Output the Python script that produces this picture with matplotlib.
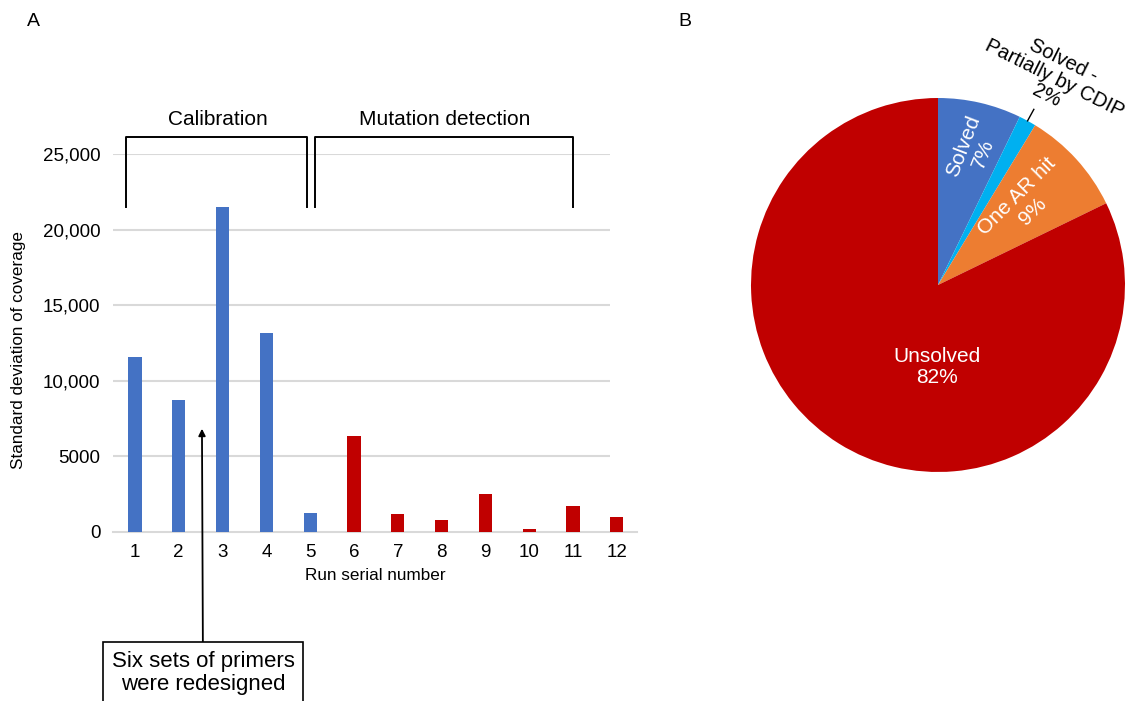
import numpy as np
import matplotlib
matplotlib.use("Agg")
import matplotlib.pyplot as plt

plt.rcParams['font.family'] = ['Liberation Sans', 'DejaVu Sans']

# Panel A data
runs = list(range(1, 13))
std_cov = [11600, 8740, 21500, 13150, 1260, 6340, 1210, 770, 2530, 180, 1720, 990]
phase = ['cal'] * 5 + ['mut'] * 7
yticks = [0, 5000, 10000, 15000, 20000, 25000]
ytick_labels = ['0', '5000', '10,000', '15,000', '20,000', '25,000']

# Panel B data
pie_names = ['Solved', 'Solved -\nPartially by CDIP', 'One AR hit', 'Unsolved']
pie_pct = [7.2, 1.5, 9.1, 82.2]
pie_text = ['7%', '2%', '9%', '82%']

BLUE = '#4472C4'
RED = '#C00000'
GRID = '#D9D9D9'

fig = plt.figure(figsize=(11.36, 7.01), dpi=100)

# ---- panel A: bar chart ----
ax = fig.add_axes([0.0995, 0.2411, 0.4612, 0.5392])
colors = [BLUE if p == 'cal' else RED for p in phase]
ax.bar(runs, std_cov, width=0.3, color=colors, zorder=3)
ax.set_xlim(0.5, 12.46)
ax.set_ylim(0, 25000)
ax.hlines(yticks[1:], 0.5, 11.84, color=GRID, lw=1.5, zorder=1)
ax.set_yticks(yticks)
ax.set_yticklabels(ytick_labels, fontsize=13.5)
ax.set_xticks(runs)
ax.set_xticklabels([str(r) for r in runs], fontsize=13.5)
ax.tick_params(length=0, pad=9)
for s in ['top', 'right', 'left']:
    ax.spines[s].set_visible(False)
ax.spines['bottom'].set_color(GRID)
ax.spines['bottom'].set_linewidth(1.5)
ax.set_ylabel('Standard deviation of coverage', fontsize=12.3)
ax.yaxis.set_label_coords(-0.166, 0.481)
ax.set_xlabel('Run serial number', fontsize=12.3)
ax.xaxis.set_label_coords(0.5, -0.094)

# brackets over the two phases
br_lo, br_hi = 21500, 26100
brackets = [(0.8, 4.93, 2.89, 'Calibration'), (5.12, 11.0, 8.08, 'Mutation detection')]
for x0, x1, xt, name in brackets:
    ax.plot([x0, x0, x1, x1], [br_lo, br_hi, br_hi, br_lo], color='black',
            lw=1.4, clip_on=False, zorder=4)
    ax.text(xt, 27300, name, ha='center', va='center', fontsize=15)

ax.annotate('Six sets of primers\nwere redesigned', xy=(2.53, 6830),
            xytext=(203 / 1136, 1 - 673 / 701), textcoords='figure fraction',
            ha='center', va='center', fontsize=16, linespacing=1.1,
            bbox=dict(boxstyle='square,pad=0.4', fc='white', ec='black', lw=1.2),
            arrowprops=dict(arrowstyle='-|>', color='black', lw=1.3,
                            mutation_scale=10, shrinkA=0, shrinkB=0),
            annotation_clip=False)

fig.text(33 / 1136, 1 - 22 / 701, 'A', fontsize=14, ha='center', va='center')
fig.text(685 / 1136, 1 - 22 / 701, 'B', fontsize=14, ha='center', va='center')

# ---- panel B: pie chart ----
pax = fig.add_axes([0.6611, 0.3267, 0.3292, 0.5335])
pie_colors = [BLUE, '#00B0F0', '#ED7D31', RED]
wedges, _ = pax.pie(pie_pct, colors=pie_colors, startangle=90, counterclock=False,
                    radius=1, wedgeprops=dict(linewidth=0))
pax.set_xlim(-1, 1)
pax.set_ylim(-1, 1)
pax.set_aspect('auto')
pax.axis('off')

# label placement: (radius, angle in deg, rotation)
label_pos = [(0.745, 75.5, 69), (1.27, 60.5, -26.5), (0.635, 43, 45), (0.44, -91, 0)]
for i, w in enumerate(wedges):
    r, ang, rot = label_pos[i]
    rad = np.deg2rad(ang)
    x, y = r * np.cos(rad), r * np.sin(rad)
    if i == 1:
        mid = np.deg2rad((w.theta1 + w.theta2) / 2)
        pax.plot([1.0 * np.cos(mid), 1.07 * np.cos(mid)],
                 [1.0 * np.sin(mid), 1.07 * np.sin(mid)],
                 color='black', lw=1, clip_on=False)
    col = 'black' if i == 1 else 'white'
    pax.text(x, y, pie_names[i] + '\n' + pie_text[i], ha='center', va='center',
             rotation=rot, rotation_mode='anchor', color=col,
             fontsize=14.5 if i == 1 else 15,
             linespacing=1.15 if i != 1 else 1.05, clip_on=False)

fig.savefig('out.png', dpi=100)
